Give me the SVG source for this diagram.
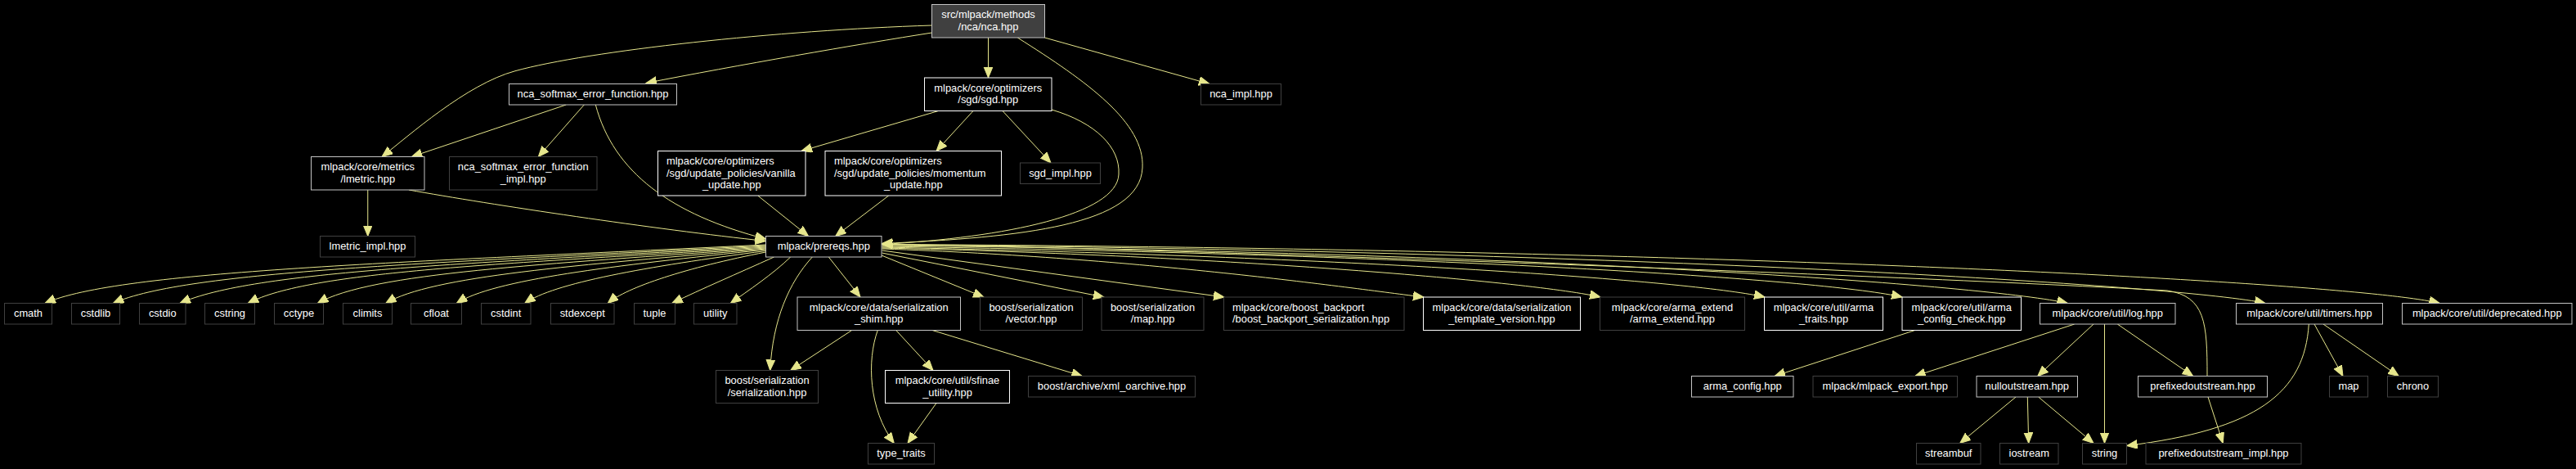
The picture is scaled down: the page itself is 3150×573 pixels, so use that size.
<svg xmlns="http://www.w3.org/2000/svg" width="3150" height="573" viewBox="0 0 3150 573">
<style>
.bg{fill:#000}
.node rect{fill:#000;stroke-width:1}
.node.b rect{stroke:#ffffff}
.node.l rect{stroke:#c4c4c4}
.node.u rect{stroke:#404040}
.node.root rect{fill:#404040;stroke:#c4c4c4}
.node text{font-family:"Liberation Sans",Arial,Helvetica,sans-serif;font-size:12.9px;fill:#ffffff;text-anchor:middle}
.node text.s{text-anchor:start}
#edges path{fill:none;stroke:#e6e68c;stroke-width:1;marker-end:url(#ah)}
</style>
<defs>
<marker id="ah" markerUnits="userSpaceOnUse" markerWidth="16" markerHeight="14" refX="13" refY="5.35" orient="auto">
<path d="M0,0 L13,5.35 L0,10.7 z" fill="#e6e68c" stroke="#e6e68c" stroke-width="1"/>
</marker>
</defs>
<rect class="bg" x="0" y="0" width="3150" height="573"/>

<g id="edges">
<path d="M1139.5,31 C950,37 720,62 630,86.7 C570,103 500,166 467,191.5"/>
<path d="M1139.5,40 C1050,54 900,80 790,101.5"/>
<path d="M1208.5,46 L1208.5,95"/>
<path d="M1277.5,46 L1479,102.5"/>
<path d="M1244.3,46 C1330,100 1400,150 1397,205 C1394,275 1250,290 1078.5,297.5"/>
<path d="M1286,134 C1340,150 1370,180 1368,213 C1366,262 1230,290 1078.5,298.5"/>
<path d="M1147.5,135.5 L980,184.5"/>
<path d="M1190,135.5 L1145,184.5"/>
<path d="M1226,135.5 L1285,199"/>
<path d="M692.3,128 L503.3,191.5"/>
<path d="M714.3,128 L658.3,191.5"/>
<path d="M728.3,128 C750,210 820,262 936.5,292"/>
<path d="M449.75,232 L449.75,288.5"/>
<path d="M500,232 C600,250 800,280 936.5,294.5"/>
<path d="M926.7,239 L988.5,288.5"/>
<path d="M1086.7,239 L1021.7,288.5"/>

<path d="M936.5,299 C495.8,320.5 145,330.5 55,370.5"/>
<path d="M936.5,300 C537.4,321.2 228.3,330.5 138.3,370.5"/>
<path d="M936.5,301 C578.3,321.9 310,330.5 220,370.5"/>
<path d="M936.5,302 C619.9,322.6 379.3,330.5 303.3,370.5"/>
<path d="M936.5,303 C662.4,323.3 454.1,333.1 388.3,370.5"/>
<path d="M936.5,304 C704.1,324 527.5,337.3 471.7,370.5"/>
<path d="M936.5,305 C747.4,324.7 603.7,341.6 558.3,370.5"/>
<path d="M936.5,306.5 C789.1,325.7 677.1,345.8 641.7,370.5"/>
<path d="M936.5,308 C839.9,326.8 766.5,350.8 743.3,370.5"/>
<path d="M946.5,314 C900,335 860,352 821.7,370.5"/>
<path d="M966.7,314 C945,335 915,355 893.3,370.5"/>

<path d="M993.3,314 C965,345 945,390 941.7,452.5"/>
<path d="M1013.3,314 L1052,363"/>
<path d="M1078,312 L1203,363"/>
<path d="M1078.5,309 L1350,363"/>
<path d="M1078.5,306 L1497,363"/>
<path d="M1078.5,304 C1400,315 1650,352 1741,363"/>
<path d="M1078.5,303 C1500,312 1880,345 1957,363"/>
<path d="M1078.5,302 C1700,315 2080,345 2158,363"/>
<path d="M1078.5,301 C1800,312 2240,343 2326,363"/>
<path d="M1078.5,300 C1900,308 2440,350 2528.3,370.5"/>
<path d="M1078.5,299 C2000,306 2680,350 2770,370.5"/>
<path d="M1078.5,298.5 C2100,304 2880,345 2983.3,370.5"/>
<path d="M2699,459.5 C2699,395 2697,362 2650,355 C2250,333 1300,300 1078.5,298.5"/>

<path d="M2341.7,403.5 L2170,459.5"/>
<path d="M2536.7,396 L2341.7,459.5"/>
<path d="M2560,396 L2491.7,459.5"/>
<path d="M2573.5,396 L2573.5,541.5"/>
<path d="M2589.3,396 L2681.7,459.5"/>
<path d="M2465,485 L2396.7,541.5"/>
<path d="M2479.3,485 L2480.7,541.5"/>
<path d="M2492.7,485 L2560,541.5"/>
<path d="M2700,485 L2718.3,541.5"/>
<path d="M2823.3,396 C2818,480 2760,525 2600.7,544.5"/>
<path d="M2830,396 L2865,459.5"/>
<path d="M2841,396 L2933.3,459.5"/>

<path d="M1041.7,403.5 L966.7,452.5"/>
<path d="M1095.7,403.5 L1141,452.5"/>
<path d="M1073.3,403.5 C1060,440 1062,500 1093.3,541.5"/>
<path d="M1140,403.5 L1323.3,459.5"/>
<path d="M1145,492.5 L1110,541.5"/>
</g>

<g id="n_nca" class="node root"><rect x="1139.5" y="5.5" width="138" height="40.5"/><text x="1208.5" y="22.25">src/mlpack/methods</text><text x="1208.5" y="36.75">/nca/nca.hpp</text></g>
<g id="n_nca_softmax" class="node l"><rect x="622.5" y="102.5" width="205" height="25.5"/><text x="725" y="119.25">nca_softmax_error_function.hpp</text></g>
<g id="n_sgd" class="node b"><rect x="1130.5" y="95" width="155.5" height="40.5"/><text x="1208.25" y="111.75">mlpack/core/optimizers</text><text x="1208.25" y="126.25">/sgd/sgd.hpp</text></g>
<g id="n_nca_impl" class="node u"><rect x="1468.5" y="102.5" width="98" height="25.5"/><text x="1517.5" y="119.25">nca_impl.hpp</text></g>
<g id="n_lmetric" class="node l"><rect x="380.5" y="191.5" width="138.5" height="40.5"/><text x="449.75" y="208.25">mlpack/core/metrics</text><text x="449.75" y="222.75">/lmetric.hpp</text></g>
<g id="n_nca_softmax_impl" class="node u"><rect x="549.5" y="191.5" width="180.5" height="40.5"/><text x="639.75" y="208.25">nca_softmax_error_function</text><text x="639.75" y="222.75">_impl.hpp</text></g>
<g id="n_vanilla" class="node b"><rect x="804.5" y="184.5" width="180.5" height="54.5"/><text class="s" x="815" y="201.25">mlpack/core/optimizers</text><text class="s" x="815" y="215.75">/sgd/update_policies/vanilla</text><text x="894.75" y="230.25">_update.hpp</text></g>
<g id="n_momentum" class="node b"><rect x="1009" y="184.5" width="215.5" height="54.5"/><text class="s" x="1020" y="201.25">mlpack/core/optimizers</text><text class="s" x="1020" y="215.75">/sgd/update_policies/momentum</text><text x="1116.75" y="230.25">_update.hpp</text></g>
<g id="n_sgd_impl" class="node u"><rect x="1247.5" y="199" width="98" height="25.5"/><text x="1296.5" y="215.75">sgd_impl.hpp</text></g>
<g id="n_lmetric_impl" class="node u"><rect x="391.5" y="288.5" width="116" height="25.5"/><text x="449.5" y="305.25">lmetric_impl.hpp</text></g>
<g id="n_prereqs" class="node l"><rect x="936.5" y="288.5" width="141.5" height="25.5"/><text x="1007.25" y="305.25">mlpack/prereqs.hpp</text></g>

<g id="n_cmath" class="node u"><rect x="5.5" y="370.5" width="58" height="25.5"/><text x="34.5" y="387.25">cmath</text></g>
<g id="n_cstdlib" class="node u"><rect x="87.5" y="370.5" width="59" height="25.5"/><text x="117" y="387.25">cstdlib</text></g>
<g id="n_cstdio" class="node u"><rect x="170.5" y="370.5" width="56.5" height="25.5"/><text x="198.75" y="387.25">cstdio</text></g>
<g id="n_cstring" class="node u"><rect x="250.5" y="370.5" width="61" height="25.5"/><text x="281" y="387.25">cstring</text></g>
<g id="n_cctype" class="node u"><rect x="335.5" y="370.5" width="60" height="25.5"/><text x="365.5" y="387.25">cctype</text></g>
<g id="n_climits" class="node u"><rect x="419.5" y="370.5" width="60" height="25.5"/><text x="449.5" y="387.25">climits</text></g>
<g id="n_cfloat" class="node u"><rect x="502.5" y="370.5" width="62" height="25.5"/><text x="533.5" y="387.25">cfloat</text></g>
<g id="n_cstdint" class="node u"><rect x="588.5" y="370.5" width="60.5" height="25.5"/><text x="618.75" y="387.25">cstdint</text></g>
<g id="n_stdexcept" class="node u"><rect x="673.5" y="370.5" width="77.5" height="25.5"/><text x="712.25" y="387.25">stdexcept</text></g>
<g id="n_tuple" class="node u"><rect x="775.5" y="370.5" width="50" height="25.5"/><text x="800.5" y="387.25">tuple</text></g>
<g id="n_utility" class="node u"><rect x="848.5" y="370.5" width="52.5" height="25.5"/><text x="874.75" y="387.25">utility</text></g>
<g id="n_shim" class="node l"><rect x="975" y="363" width="199.5" height="40.5"/><text x="1074.75" y="379.75">mlpack/core/data/serialization</text><text x="1074.75" y="394.25">_shim.hpp</text></g>
<g id="n_vector" class="node u"><rect x="1198.5" y="363" width="125" height="40.5"/><text x="1261" y="379.75">boost/serialization</text><text x="1261" y="394.25">/vector.hpp</text></g>
<g id="n_map_hpp" class="node u"><rect x="1347" y="363" width="125" height="40.5"/><text x="1409.5" y="379.75">boost/serialization</text><text x="1409.5" y="394.25">/map.hpp</text></g>
<g id="n_boost_backport" class="node u"><rect x="1496.5" y="363" width="220.5" height="40.5"/><text class="s" x="1507" y="379.75">mlpack/core/boost_backport</text><text class="s" x="1507" y="394.25">/boost_backport_serialization.hpp</text></g>
<g id="n_template_version" class="node b"><rect x="1740.5" y="363" width="192" height="40.5"/><text x="1836.5" y="379.75">mlpack/core/data/serialization</text><text x="1836.5" y="394.25">_template_version.hpp</text></g>
<g id="n_arma_extend" class="node u"><rect x="1956.5" y="363" width="177" height="40.5"/><text x="2045" y="379.75">mlpack/core/arma_extend</text><text x="2045" y="394.25">/arma_extend.hpp</text></g>
<g id="n_arma_traits" class="node b"><rect x="2157.5" y="363" width="145" height="40.5"/><text x="2230" y="379.75">mlpack/core/util/arma</text><text x="2230" y="394.25">_traits.hpp</text></g>
<g id="n_arma_config_check" class="node b"><rect x="2326" y="363" width="145.5" height="40.5"/><text x="2398.75" y="379.75">mlpack/core/util/arma</text><text x="2398.75" y="394.25">_config_check.hpp</text></g>
<g id="n_log" class="node l"><rect x="2494.5" y="370.5" width="165.5" height="25.5"/><text x="2577.25" y="387.25">mlpack/core/util/log.hpp</text></g>
<g id="n_timers" class="node l"><rect x="2734.5" y="370.5" width="179" height="25.5"/><text x="2824" y="387.25">mlpack/core/util/timers.hpp</text></g>
<g id="n_deprecated" class="node l"><rect x="2937.5" y="370.5" width="207.5" height="25.5"/><text x="3041.25" y="387.25">mlpack/core/util/deprecated.hpp</text></g>

<g id="n_serialization" class="node u"><rect x="875.5" y="452.5" width="125" height="40"/><text x="938" y="469">boost/serialization</text><text x="938" y="483.5">/serialization.hpp</text></g>
<g id="n_sfinae" class="node b"><rect x="1082.5" y="452.5" width="152" height="40"/><text x="1158.5" y="469">mlpack/core/util/sfinae</text><text x="1158.5" y="483.5">_utility.hpp</text></g>
<g id="n_xml" class="node u"><rect x="1257.5" y="459.5" width="204" height="25.5"/><text x="1359.5" y="476.25">boost/archive/xml_oarchive.hpp</text></g>
<g id="n_arma_config" class="node l"><rect x="2068.5" y="459.5" width="124.5" height="25.5"/><text x="2130.75" y="476.25">arma_config.hpp</text></g>
<g id="n_export" class="node u"><rect x="2217" y="459.5" width="176.5" height="25.5"/><text x="2305.25" y="476.25">mlpack/mlpack_export.hpp</text></g>
<g id="n_null" class="node l"><rect x="2417" y="459.5" width="123.5" height="25.5"/><text x="2478.75" y="476.25">nulloutstream.hpp</text></g>
<g id="n_prefixed" class="node l"><rect x="2614.5" y="459.5" width="158" height="25.5"/><text x="2693.5" y="476.25">prefixedoutstream.hpp</text></g>
<g id="n_map" class="node u"><rect x="2848.5" y="459.5" width="47" height="25.5"/><text x="2872" y="476.25">map</text></g>
<g id="n_chrono" class="node u"><rect x="2919.5" y="459.5" width="62" height="25.5"/><text x="2950.5" y="476.25">chrono</text></g>

<g id="n_type_traits" class="node u"><rect x="1061.5" y="541.5" width="81" height="25.5"/><text x="1102" y="558.25">type_traits</text></g>
<g id="n_streambuf" class="node u"><rect x="2343.5" y="541.5" width="78.5" height="25.5"/><text x="2382.75" y="558.25">streambuf</text></g>
<g id="n_iostream" class="node u"><rect x="2445.5" y="541.5" width="71.5" height="25.5"/><text x="2481.25" y="558.25">iostream</text></g>
<g id="n_string" class="node u"><rect x="2546.5" y="541.5" width="54" height="25.5"/><text x="2573.5" y="558.25">string</text></g>
<g id="n_prefixed_impl" class="node u"><rect x="2624" y="541.5" width="190" height="25.5"/><text x="2719" y="558.25">prefixedoutstream_impl.hpp</text></g>
</svg>
